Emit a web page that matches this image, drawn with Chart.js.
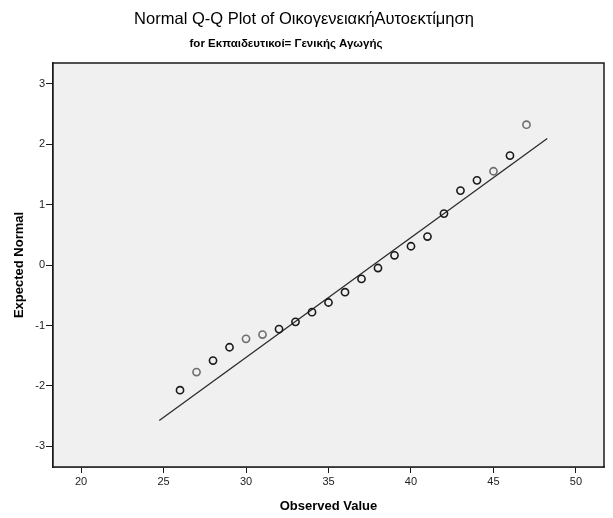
<!DOCTYPE html>
<html lang="en">
<head>
  <meta charset="UTF-8">
  <title>Normal Q-Q Plot</title>
  <style>
    html, body { margin: 0; padding: 0; background: #fff; }
  </style>
</head>
<body>
  <canvas id="myChart" width="613" height="518"></canvas>
  <script src="https://cdn.jsdelivr.net/npm/chart.js"></script>
  <script>
    const observed = [26, 27, 28, 29, 30, 31, 32, 33, 34, 35, 36, 37, 38, 39, 40, 41, 42, 43, 44, 45, 46, 47];
    const expected = [-2.07, -1.77, -1.58, -1.36, -1.22, -1.15, -1.06, -0.94, -0.78, -0.62, -0.45,
                      -0.23, -0.05, 0.16, 0.31, 0.47, 0.85, 1.23, 1.40, 1.55, 1.81, 2.32];
    // the points that show up lighter grey in the picture
    const lightPoints = [27, 30, 31, 45, 47];

    // reference line ends
    const lineX = [24.74, 48.26];
    const lineY = [-2.57, 2.09];

    const xTicks = [20, 25, 30, 35, 40, 45, 50];
    const yTicks = [-3, -2, -1, 0, 1, 2, 3];

    const titleText = 'Normal Q-Q Plot of ΟικογενειακήΑυτοεκτίμηση';
    const subtitleText = 'for Εκπαιδευτικοί= Γενικής Αγωγής';

    const FONT = "'Liberation Sans', Arial, sans-serif";

    const pts = observed.map((x, i) => ({ x: x, y: expected[i] }));
    const linePts = lineX.map((x, i) => ({ x: x, y: lineY[i] }));
    const ptColors = observed.map(v => lightPoints.includes(v) ? '#6e6e6e' : '#1a1a1a');

    // plot background, frame and the two title lines
    const frame = {
      id: 'frame',
      beforeDatasetsDraw(chart) {
        const a = chart.chartArea, c = chart.ctx;
        c.save();
        c.fillStyle = '#f0f0f0';
        c.fillRect(a.left, a.top, a.right - a.left, a.bottom - a.top);
        c.restore();
      },
      afterDraw(chart) {
        const a = chart.chartArea, c = chart.ctx;
        c.save();
        c.strokeStyle = '#1a1a1a';
        c.lineWidth = 1.5;
        c.strokeRect(a.left, a.top, a.right - a.left, a.bottom - a.top);
        c.fillStyle = '#000';
        c.textAlign = 'center';
        c.textBaseline = 'middle';
        c.font = '16.5px ' + FONT;
        c.fillText(titleText, 304, 19);
        c.font = 'bold 11.5px ' + FONT;
        c.fillText(subtitleText, 286, 44);
        c.restore();
      }
    };

    const ctx = document.getElementById('myChart');

    const mychart = new Chart(ctx, {
      type: 'scatter',
      data: {
        datasets: [{
          type: 'line',
          label: 'line',
          data: linePts,
          borderColor: '#2a2a2a',
          borderWidth: 1.3,
          pointRadius: 0,
          fill: false,
          order: 2
        }, {
          label: 'observed',
          data: pts,
          pointRadius: 3.6,
          pointBorderWidth: 1.6,
          pointBorderColor: ptColors,
          pointBackgroundColor: 'rgba(0,0,0,0)',
          order: 1
        }]
      },
      options: {
        responsive: false,
        animation: false,
        devicePixelRatio: 1,
        layout: { padding: { left: 0, right: 9, top: 63, bottom: 0 } },
        plugins: {
          legend: { display: false },
          tooltip: { enabled: false }
        },
        scales: {
          x: {
            type: 'linear',
            min: 18.3,
            max: 51.7,
            afterBuildTicks: s => { s.ticks = xTicks.map(v => ({ value: v })); },
            afterFit: s => { s.height = 51; },
            grid: { display: true, drawOnChartArea: false, tickLength: 6, color: '#1a1a1a', lineWidth: 1 },
            border: { display: true, color: '#1a1a1a', width: 1.5 },
            ticks: { color: '#222', font: { family: FONT, size: 11 }, padding: 2, maxRotation: 0 },
            title: { display: true, text: 'Observed Value', color: '#000',
                     font: { family: FONT, size: 13, weight: 'bold' }, padding: { top: 14 } }
          },
          y: {
            type: 'linear',
            min: -3.34,
            max: 3.34,
            afterBuildTicks: s => { s.ticks = yTicks.map(v => ({ value: v })); },
            afterFit: s => { s.width = 53; },
            grid: { display: true, drawOnChartArea: false, tickLength: 7, color: '#1a1a1a', lineWidth: 1 },
            border: { display: true, color: '#1a1a1a', width: 1.5 },
            ticks: { color: '#222', font: { family: FONT, size: 11 }, padding: 1 },
            title: { display: true, text: 'Expected Normal', color: '#000',
                     font: { family: FONT, size: 13, weight: 'bold' }, padding: { top: 12, bottom: 0 } }
          }
        }
      },
      plugins: [frame]
    });
  </script>
</body>
</html>
